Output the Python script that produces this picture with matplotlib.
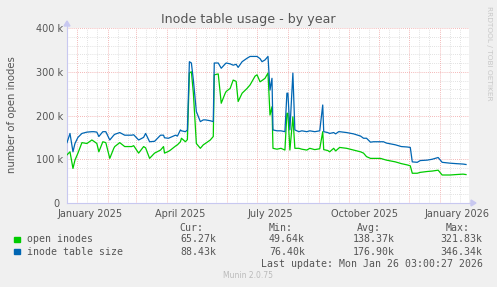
import matplotlib
matplotlib.use("Agg")
import matplotlib.pyplot as plt
from matplotlib.patches import Rectangle, Polygon

# ---- data (days since 2025-01-01, values in thousands) ----
days = [-10, -7, -4, -2, 1, 5, 10, 15, 17, 20, 22, 26, 29, 33, 37, 38, 43, 48, 55, 57,
        62, 67, 69, 73, 78, 84, 87, 88, 92, 94, 99, 101, 104, 105, 109, 111, 113, 115, 117, 120,
        124, 127, 129, 134, 137, 138, 142, 145, 149, 150, 154, 157, 160, 162, 166, 171, 174, 179, 181, 184,
        186, 189, 192, 194, 196, 197, 201, 205, 209, 211, 212, 214, 217, 219, 223, 226, 231, 234, 239, 244,
        247, 248, 252, 254, 258, 260, 263, 264, 271, 278, 285, 288, 291, 295, 298, 305, 308, 311, 320, 326,
        332, 335, 337, 342, 345, 352, 357, 363, 367, 375, 381, 388, 391]
inode_table_size = [138, 159, 117, 136, 150, 159, 162, 163, 163, 162, 152, 163, 163, 144, 155, 157, 161, 155, 155, 156,
                    144, 150, 159, 140, 141, 155, 155, 149, 148, 150, 155, 153, 167, 165, 163, 167, 323, 320, 281, 209,
                    186, 190, 190, 188, 186, 320, 320, 308, 318, 320, 318, 315, 317, 310, 323, 331, 335, 335, 335, 330,
                    323, 327, 335, 258, 285, 167, 165, 165, 163, 251, 251, 167, 297, 167, 163, 165, 163, 165, 163, 165,
                    224, 163, 161, 159, 161, 158, 163, 163, 161, 158, 153, 148, 148, 139, 140, 140, 140, 137, 133, 129,
                    128, 127, 94, 93, 97, 98, 100, 104, 93, 91, 90, 89, 88]
open_inodes = [110, 117, 79, 98, 114, 138, 136, 144, 141, 136, 117, 140, 138, 102, 125, 129, 138, 129, 129, 131,
               114, 129, 126, 102, 114, 121, 129, 114, 118, 121, 130, 133, 140, 148, 140, 145, 297, 300, 251, 136,
               125, 133, 136, 144, 152, 293, 295, 228, 251, 255, 262, 281, 278, 232, 251, 262, 270, 290, 293, 277,
               280, 285, 297, 201, 220, 125, 123, 125, 121, 205, 205, 121, 197, 125, 125, 123, 121, 125, 122, 124,
               163, 122, 120, 117, 125, 119, 125, 127, 125, 121, 117, 114, 106, 102, 102, 102, 100, 98, 94, 90,
               87, 85, 68, 68, 70, 72, 73, 75, 64, 64, 65, 66, 65]

month_starts = [0, 31, 59, 90, 120, 151, 181, 212, 243, 273, 304, 334, 365]
tick_labels = ["January 2025", "April 2025", "July 2025", "October 2025", "January 2026"]
tick_label_days = [13, 104, 194, 289, 382]
y_ticks = [0, 100, 200, 300, 400]
y_tick_labels = ["0 ", "100 k", "200 k", "300 k", "400 k"]

legend_names = ["open inodes", "inode table size"]
legend_colors = ["#00CC00", "#0066B3"]
cur = ["65.27k", "88.43k"]
mins = ["49.64k", "76.40k"]
avgs = ["138.37k", "176.90k"]
maxs = ["321.83k", "346.34k"]

W, H = 497, 287
fig = plt.figure(figsize=(W / 100, H / 100), dpi=100, facecolor="#F0F0F0")
L, R, T, B = 67, 469, 28, 203
ax = fig.add_axes([L / W, 1 - B / H, (R - L) / W, (B - T) / H])
ax.set_facecolor("white")
ax.set_xlim(-10, 394)
ax.set_ylim(0, 400)

txt = "#555555"
axis_col = "#C8C8F0"
# minor grid
minor_x = [-11]
for i in range(len(month_starts) - 1):
    a = month_starts[i]
    minor_x += [a + 10, a + 20]
minor_x.append(375)
minor_x.append(385)
for x in minor_x:
    if -10 < x < 394:
        ax.axvline(x, color="#D8D8D8", lw=0.6, ls=(0, (1, 1.5)), zorder=0)
for y in range(20, 400, 20):
    if y % 100:
        ax.axhline(y, color="#D8D8D8", lw=0.6, ls=(0, (1, 1.5)), zorder=0)
# major grid
for x in month_starts:
    ax.axvline(x, color="#F0A0A0", lw=0.6, ls=(0, (1, 1.5)), zorder=0.5)
for y in [100, 200, 300, 400]:
    ax.axhline(y, color="#F0A0A0", lw=0.6, ls=(0, (1, 1.5)), zorder=0.5)

ax.plot(days, open_inodes, color=legend_colors[0], lw=0.9, zorder=3)
ax.plot(days, inode_table_size, color=legend_colors[1], lw=0.9, zorder=4)

for s in ["top", "right"]:
    ax.spines[s].set_visible(False)
for s in ["left", "bottom"]:
    ax.spines[s].set_color(axis_col)
    ax.spines[s].set_linewidth(0.8)

ax.set_yticks(y_ticks)
ax.set_yticklabels(y_tick_labels)
ax.set_xticks(tick_label_days)
ax.set_xticklabels(tick_labels)
ax.tick_params(axis="both", length=0, labelsize=7, labelcolor=txt, pad=3)
ax.tick_params(axis="x", pad=4)

# axis extensions and arrows
fig.add_artist(plt.Line2D([R / W, (R + 3) / W], [1 - B / H, 1 - B / H], color=axis_col, lw=0.8))
fig.add_artist(plt.Line2D([L / W, L / W], [1 - T / H, 1 - (T - 3) / H], color=axis_col, lw=0.8))
fig.patches.append(Polygon([[(R + 2) / W, 1 - (B - 3) / H], [(R + 7) / W, 1 - B / H], [(R + 2) / W, 1 - (B + 3) / H]],
                           closed=True, transform=fig.transFigure, color=axis_col, figure=fig))
fig.patches.append(Polygon([[(L - 3) / W, 1 - (T - 2) / H], [L / W, 1 - (T - 7) / H], [(L + 3) / W, 1 - (T - 2) / H]],
                           closed=True, transform=fig.transFigure, color=axis_col, figure=fig))

fig.text(248.7 / W, 1 - 19 / H, "Inode table usage - by year", ha="center", va="center",
         fontsize=9.1, color=txt)
fig.text(12 / W, 1 - 115 / H, "number of open inodes", rotation=90, ha="center", va="center",
         fontsize=7.3, color=txt)
fig.text(489 / W, 1 - 6 / H, "RRDTOOL / TOBI OETIKER", rotation=270, ha="center", va="top",
         fontsize=5.3, color="#C8C8C8")

mono = "DejaVu Sans Mono"
fs = 7.1
rows_y = [239.3, 251.7]
for hdr, xr in zip(["Cur:", "Min:", "Avg:", "Max:"], [203.3, 292.7, 381, 470]):
    fig.text(xr / W, 1 - 228.3 / H, hdr, ha="right", va="center", family=mono, fontsize=fs, color=txt)
for i in range(2):
    y = 1 - rows_y[i] / H
    fig.patches.append(Rectangle((14 / W, y - 2.7 / H), 5.5 / W, 5.5 / H, transform=fig.transFigure,
                                 color=legend_colors[i], figure=fig))
    fig.text(26.7 / W, y, legend_names[i], ha="left", va="center", family=mono, fontsize=fs, color=txt)
    for val, xr in zip([cur[i], mins[i], avgs[i], maxs[i]], [216, 305, 394.3, 482.7]):
        fig.text(xr / W, y, val, ha="right", va="center", family=mono, fontsize=fs, color=txt)
fig.text(482.7 / W, 1 - 264 / H, "Last update: Mon Jan 26 03:00:27 2026", ha="right", va="center",
         family=mono, fontsize=fs, color=txt)
fig.text(247.7 / W, 1 - 276 / H, "Munin 2.0.75", ha="center", va="center", fontsize=5.5, color="#BBBBBB")

fig.savefig("out.png", dpi=100, facecolor=fig.get_facecolor())
